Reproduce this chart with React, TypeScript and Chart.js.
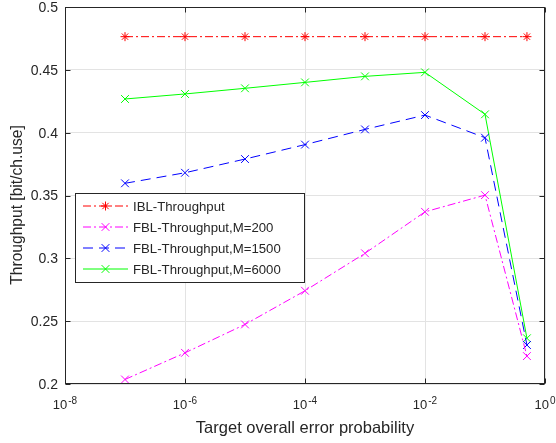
import React, { useEffect, useRef } from "react";
import { Chart, registerables } from "chart.js";

Chart.register(...registerables);

const xValues = [1e-7, 1e-6, 1e-5, 1e-4, 1e-3, 1e-2, 1e-1, 0.5];
const iblThroughput = [0.4764, 0.4764, 0.4764, 0.4764, 0.4764, 0.4764, 0.4764, 0.4764];
const fblM200 = [0.2036, 0.2248, 0.2474, 0.2742, 0.304, 0.337, 0.3503, 0.2222];
const fblM1500 = [0.3597, 0.3681, 0.379, 0.3905, 0.4026, 0.414, 0.396, 0.231];
const fblM6000 = [0.4268, 0.4308, 0.4353, 0.4400, 0.4448, 0.448, 0.4146, 0.2364];

const seriesNames = [
  "IBL-Throughput",
  "FBL-Throughput,M=200",
  "FBL-Throughput,M=1500",
  "FBL-Throughput,M=6000",
];
const xTickValues = [1e-8, 1e-6, 1e-4, 1e-2, 1];
const xTickExponents = ["-8", "-6", "-4", "-2", "0"];
const yTickValues = [0.2, 0.25, 0.3, 0.35, 0.4, 0.45, 0.5];
const yTickLabels = ["0.2", "0.25", "0.3", "0.35", "0.4", "0.45", "0.5"];
const xTitle = "Target overall error probability";
const yTitle = "Throughput [bit/ch.use]";

const FONT = '"Liberation Sans", Arial, sans-serif';
const TXT = "#262626";

const styles = [
  { color: "#ff0000", dash: [8, 3, 2, 3], point: "star", radius: 4.5 },
  { color: "#ff00ff", dash: [8, 3, 2, 3], point: "crossRot", radius: 5.5 },
  { color: "#0000ff", dash: [10, 6], point: "crossRot", radius: 5.5 },
  { color: "#00ff00", dash: [], point: "crossRot", radius: 5.5 },
];

function drawMarker(ctx: CanvasRenderingContext2D, kind: string, x: number, y: number, r: number) {
  ctx.beginPath();
  const o = Math.cos(Math.PI / 4) * r;
  ctx.moveTo(x - o, y - o);
  ctx.lineTo(x + o, y + o);
  ctx.moveTo(x - o, y + o);
  ctx.lineTo(x + o, y - o);
  if (kind === "star") {
    ctx.moveTo(x - r, y);
    ctx.lineTo(x + r, y);
    ctx.moveTo(x, y - r);
    ctx.lineTo(x, y + r);
  }
  ctx.stroke();
}

const decorPlugin = {
  id: "decor",
  afterDraw(chart: any) {
    const ctx: CanvasRenderingContext2D = chart.ctx;
    const a = chart.chartArea;
    const xs = chart.scales.x;
    const ys = chart.scales.y;
    ctx.save();
    // box
    ctx.strokeStyle = TXT;
    ctx.lineWidth = 1;
    ctx.setLineDash([]);
    const L = Math.round(a.left) + 0.5;
    const R = Math.round(a.right) - 0.5;
    const T = Math.round(a.top) + 0.5;
    const B = Math.round(a.bottom) - 0.5;
    ctx.strokeRect(L, T, R - L, B - T);
    // inward ticks
    ctx.beginPath();
    xTickValues.forEach((v) => {
      const px = Math.round(xs.getPixelForValue(v)) + 0.5;
      ctx.moveTo(px, B);
      ctx.lineTo(px, B - 5);
      ctx.moveTo(px, T);
      ctx.lineTo(px, T + 5);
    });
    yTickValues.forEach((v) => {
      const py = Math.round(ys.getPixelForValue(v)) + 0.5;
      ctx.moveTo(L, py);
      ctx.lineTo(L + 5, py);
      ctx.moveTo(R, py);
      ctx.lineTo(R - 5, py);
    });
    ctx.stroke();

    // y tick labels
    ctx.fillStyle = TXT;
    ctx.font = `14px ${FONT}`;
    ctx.textAlign = "right";
    ctx.textBaseline = "middle";
    yTickValues.forEach((v, i) => {
      ctx.fillText(yTickLabels[i], a.left - 7, ys.getPixelForValue(v) + 1);
    });

    // x tick labels with superscript
    xTickValues.forEach((v, i) => {
      const px = xs.getPixelForValue(v);
      ctx.font = `13px ${FONT}`;
      const wBase = ctx.measureText("10").width;
      ctx.font = `10px ${FONT}`;
      const wExp = ctx.measureText(xTickExponents[i]).width;
      const total = wBase + wExp + 1;
      const x0 = px - total / 2;
      ctx.textAlign = "left";
      ctx.textBaseline = "alphabetic";
      ctx.font = `13px ${FONT}`;
      ctx.fillText("10", x0, a.bottom + 25);
      ctx.font = `10px ${FONT}`;
      ctx.fillText(xTickExponents[i], x0 + wBase + 1, a.bottom + 20);
    });

    // axis titles
    ctx.font = `16.5px ${FONT}`;
    ctx.textAlign = "center";
    ctx.textBaseline = "alphabetic";
    ctx.fillText(xTitle, (a.left + a.right) / 2, a.bottom + 49);
    ctx.save();
    ctx.font = `15.6px ${FONT}`;
    ctx.translate(22, 205);
    ctx.rotate(-Math.PI / 2);
    ctx.fillText(yTitle, 0, 0);
    ctx.restore();

    // legend
    const lx = 75.5, ly = 193.5, lw = 229, lh = 89;
    ctx.fillStyle = "#ffffff";
    ctx.fillRect(lx, ly, lw, lh);
    ctx.strokeStyle = TXT;
    ctx.lineWidth = 1;
    ctx.strokeRect(lx, ly, lw, lh);
    const rows = [206, 227, 248, 269];
    seriesNames.forEach((name, i) => {
      const st = styles[i];
      const y = rows[i];
      ctx.strokeStyle = st.color;
      ctx.lineWidth = 1;
      ctx.setLineDash(st.dash);
      ctx.beginPath();
      ctx.moveTo(83, y);
      ctx.lineTo(128, y);
      ctx.stroke();
      ctx.setLineDash([]);
      drawMarker(ctx, st.point, 105.5, y, st.radius);
      ctx.fillStyle = TXT;
      ctx.font = `13.2px ${FONT}`;
      ctx.textAlign = "left";
      ctx.textBaseline = "middle";
      ctx.fillText(name, 133, y + 1);
    });
    ctx.restore();
  },
};

export default function App() {
  const ref = useRef<HTMLCanvasElement>(null);
  useEffect(() => {
    if (!ref.current) return;
    const seriesData = [iblThroughput, fblM200, fblM1500, fblM6000];
    const chart = new Chart(ref.current, {
      type: "line",
      data: {
        datasets: seriesData.map((arr, i) => ({
          label: seriesNames[i],
          data: arr.map((y, j) => ({ x: xValues[j], y })),
          borderColor: styles[i].color,
          backgroundColor: styles[i].color,
          borderWidth: 1,
          borderDash: styles[i].dash,
          pointStyle: styles[i].point as any,
          pointRadius: styles[i].radius,
          pointBorderWidth: 1,
          pointBorderColor: styles[i].color,
          fill: false,
          tension: 0,
        })),
      },
      options: {
        animation: false,
        responsive: false,
        devicePixelRatio: 1,
        layout: { padding: { top: 7, right: 11, left: 0, bottom: 0 } },
        plugins: { legend: { display: false }, tooltip: { enabled: false } },
        scales: {
          x: {
            type: "logarithmic",
            min: 1e-8,
            max: 1,
            afterBuildTicks: (s: any) => {
              s.ticks = xTickValues.map((v) => ({ value: v }));
            },
            afterFit: (s: any) => {
              s.height = 59;
            },
            ticks: { display: false },
            grid: { color: "#e3e3e3", drawTicks: false, lineWidth: 1 },
            border: { display: false },
          },
          y: {
            type: "linear",
            min: 0.2,
            max: 0.5,
            afterBuildTicks: (s: any) => {
              s.ticks = yTickValues.map((v) => ({ value: v }));
            },
            afterFit: (s: any) => {
              s.width = 65;
            },
            ticks: { display: false },
            grid: { color: "#e3e3e3", drawTicks: false, lineWidth: 1 },
            border: { display: false },
          },
        },
      },
      plugins: [decorPlugin],
    });
    return () => chart.destroy();
  }, []);
  return (
    <div style={{ position: "fixed", left: 0, top: 0, width: 556, height: 443, background: "#fff" }}>
      <canvas ref={ref} width={556} height={443} style={{ width: 556, height: 443 }} />
    </div>
  );
}
